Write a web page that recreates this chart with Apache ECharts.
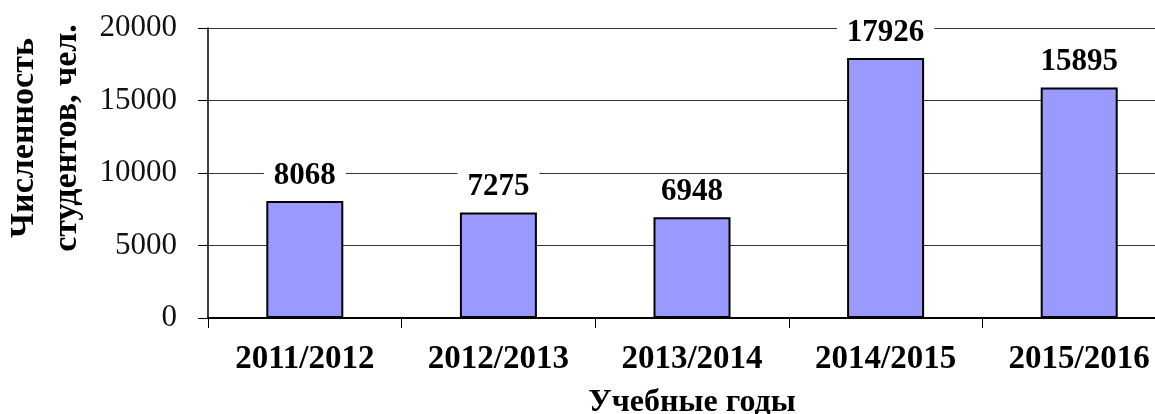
<!DOCTYPE html>
<html>
<head>
<meta charset="utf-8">
<script src="https://cdn.jsdelivr.net/npm/echarts@6/dist/echarts.min.js"></script>
<style>
	html, body { margin: 0; padding: 0; background: #fff; }
	#chart { width: 1155px; height: 414px; }
</style>
</head>
<body>
<div id="chart"></div>
<script>
	/*данные диаграммы*/
	var years = ['2011/2012', '2012/2013', '2013/2014', '2014/2015', '2015/2016'];
	var students = [8068, 7275, 6948, 17926, 15895];
	var yTicks = [0, 5000, 10000, 15000, 20000];

	var serif = '"Liberation Serif", "Times New Roman", serif';

	var myChart = echarts.init(document.getElementById('chart'));

	var option = {
		backgroundColor : '#fff',
		animation : false,
		grid : {
			left : 208,
			top : 28,
			width : 968,//правый край обрезан как в оригинале
			height : 290,
			containLabel : false,
			outerBoundsMode : 'none'
		},
		xAxis : {
			type : 'category',
			data : years,
			name : 'Учебные годы',
			nameLocation : 'middle',
			nameGap : 69,
			nameTextStyle : {
				fontFamily : serif,
				fontWeight : 'bold',
				fontSize : 32,
				color : '#000'
			},
			axisLine : { lineStyle : { color : '#000', width : 2 } },
			axisTick : { show : true, length : 10, lineStyle : { color : '#000', width : 1 } },
			axisLabel : {
				interval : 0,
				hideOverlap : false,
				margin : 25,
				fontFamily : serif,
				fontWeight : 'bold',
				fontSize : 33,
				color : '#000'
			}
		},
		yAxis : {
			type : 'value',
			min : yTicks[0],
			max : yTicks[yTicks.length - 1],
			interval : yTicks[1] - yTicks[0],
			axisLine : { show : true, lineStyle : { color : '#000', width : 1.5 } },
			axisTick : { show : true, length : 10, lineStyle : { color : '#000' } },
			axisLabel : {
				margin : 31,
				fontFamily : serif,
				fontSize : 31,
				color : '#111',
				formatter : function (v) { return String(v); }
			},
			splitLine : { show : true, lineStyle : { color : '#333', width : 1 } }
		},
		graphic : [{
			type : 'text',
			x : 46,
			y : 138,
			rotation : Math.PI / 2,
			style : {
				text : 'Численность\nстудентов, чел.',
				fontFamily : serif,
				fontWeight : 'bold',
				fontSize : 34,
				lineHeight : 43,
				align : 'center',
				verticalAlign : 'middle',
				fill : '#000'
			}
		}],
		series : [{
			type : 'bar',
			data : students,
			barWidth : 77,
			itemStyle : {
				color : '#9999ff',
				borderColor : '#000',
				borderWidth : 2
			},
			label : {
				show : true,
				position : 'top',
				distance : 10,
				fontFamily : serif,
				fontWeight : 'bold',
				fontSize : 31,
				color : '#000',
				backgroundColor : '#fff',
				padding : [0, 10]
			}
		}]
	};

	myChart.setOption(option);
</script>
</body>
</html>
